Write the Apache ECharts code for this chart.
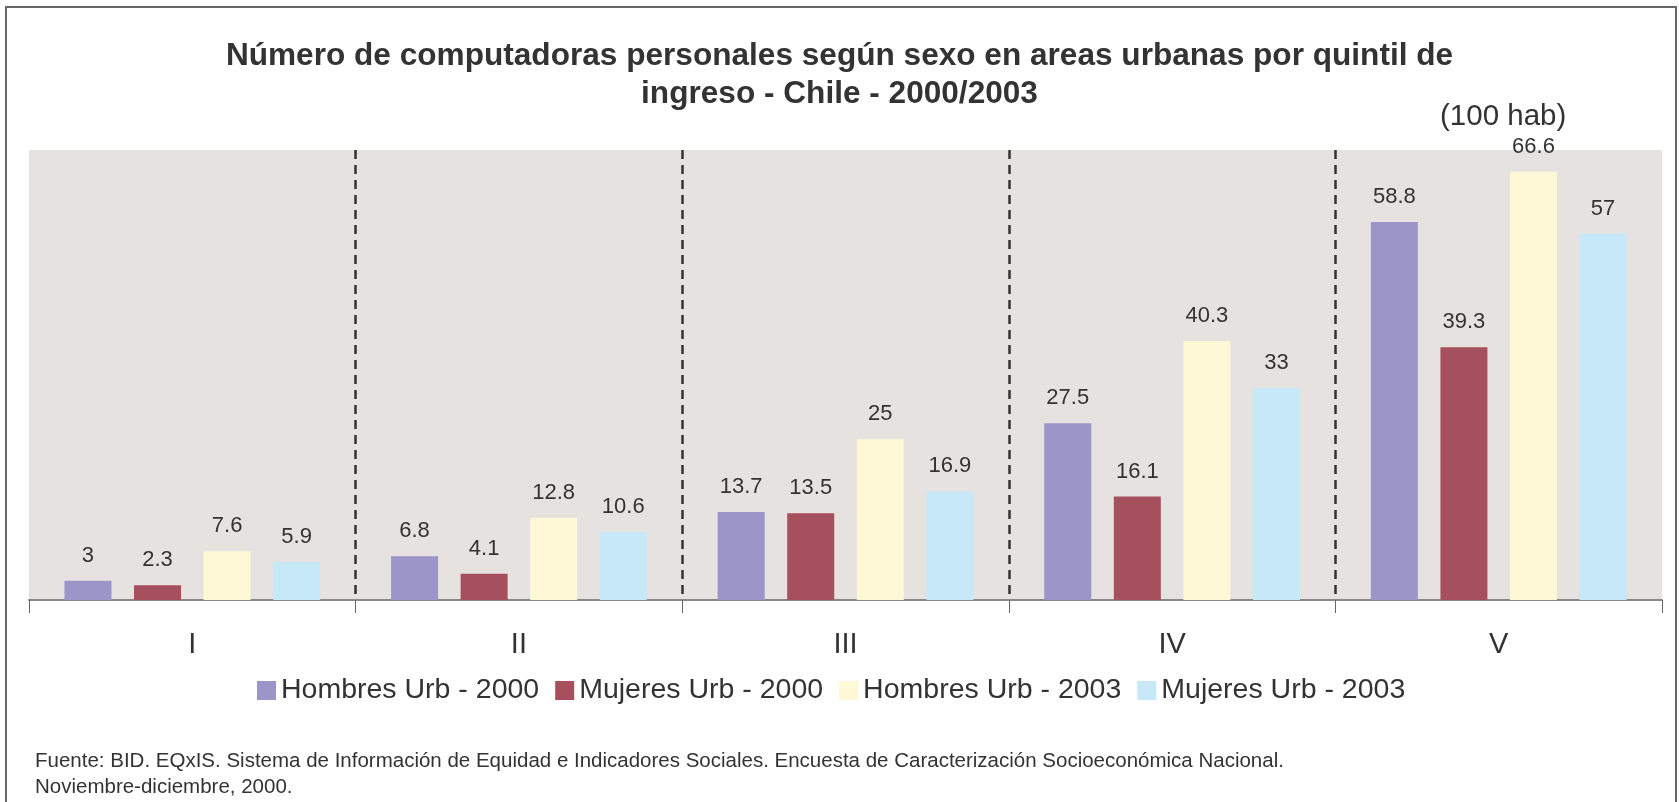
<!DOCTYPE html>
<html>
<head>
<meta charset="utf-8">
<style>
  html, body { margin: 0; padding: 0; background: #fff; }
  #main { width: 1679px; height: 802px; }
</style>
<script src="https://cdn.jsdelivr.net/npm/echarts@6/dist/echarts.min.js"></script>
</head>
<body>
<div id="main"></div>
<script>
var quintiles = ['I', 'II', 'III', 'IV', 'V'];
var seriesNames = ['Hombres Urb - 2000', 'Mujeres Urb - 2000', 'Hombres Urb - 2003', 'Mujeres Urb - 2003'];
var hombres2000 = [3, 6.8, 13.7, 27.5, 58.8];
var mujeres2000 = [2.3, 4.1, 13.5, 16.1, 39.3];
var hombres2003 = [7.6, 12.8, 25, 40.3, 66.6];
var mujeres2003 = [5.9, 10.6, 16.9, 33, 57];
var colors = ['#9B95C8', '#A6505E', '#FEF8D6', '#C6E8F7'];

var font = '"Liberation Sans", Arial, Helvetica, sans-serif';
var myChart = echarts.init(document.getElementById('main'));

var values = [hombres2000, mujeres2000, hombres2003, mujeres2003];
var series = [];
for (var i = 0; i < values.length; i++) {
    series.push({
        name: seriesNames[i],
        type: 'bar',
        data: values[i],
        barWidth: 47,
        barGap: '48%',
        itemStyle: { color: colors[i] },
        label: {
            show: true,
            position: 'top',
            distance: 14,
            color: '#333',
            fontSize: 22,
            fontFamily: font
        }
    });
}

var option = {
    animation: false,
    color: colors,
    title: [{
        text: 'Número de computadoras personales según sexo en areas urbanas por quintil de\ningreso - Chile - 2000/2003',
        left: 'center',
        top: 32,
        padding: [5, 5, 5, 15],
        textStyle: {
            fontFamily: font,
            fontSize: 31.6,
            fontWeight: 'bold',
            color: '#333',
            lineHeight: 38.5
        }
    }, {
        text: '(100 hab)',
        left: 1435,
        top: 97,
        textStyle: {
            fontFamily: font,
            fontSize: 29.5,
            fontWeight: 'normal',
            color: '#333'
        }
    }],
    graphic: [{
        type: 'rect',
        shape: { x: 6, y: 7, width: 1670, height: 820 },
        style: { fill: 'none', stroke: '#666', lineWidth: 2 },
        silent: true
    }, {
        type: 'text',
        left: 35,
        top: 748,
        style: {
            text: 'Fuente: BID. EQxIS. Sistema de Información de Equidad e Indicadores Sociales. Encuesta de Caracterización Socioeconómica Nacional.\nNoviembre-diciembre, 2000.',
            font: '20.5px ' + font,
            fill: '#333',
            lineHeight: 26
        }
    }],
    legend: {
        data: seriesNames,
        left: 252,
        top: 671,
        itemWidth: 19,
        itemHeight: 19,
        itemGap: 16,
        icon: 'rect',
        textStyle: {
            fontFamily: font,
            fontSize: 28.5,
            color: '#333'
        }
    },
    grid: {
        left: 29,
        right: 17,
        top: 150,
        bottom: 202,
        show: true,
        backgroundColor: '#E6E2DF',
        borderWidth: 0
    },
    xAxis: {
        type: 'category',
        data: quintiles,
        axisLine: { lineStyle: { color: '#888', width: 2 } },
        axisTick: { show: true, length: 13, lineStyle: { color: '#666', width: 1 } },
        axisLabel: {
            margin: 30,
            fontFamily: font,
            fontSize: 29,
            color: '#333'
        },
        splitLine: {
            show: true,
            showMinLine: false,
            showMaxLine: false,
            lineStyle: { color: '#333', width: 2.5, type: [9, 6] }
        }
    },
    yAxis: {
        type: 'value',
        min: 0,
        max: 70,
        show: false,
        splitLine: { show: false }
    },
    series: series
};

myChart.setOption(option);
</script>
</body>
</html>
